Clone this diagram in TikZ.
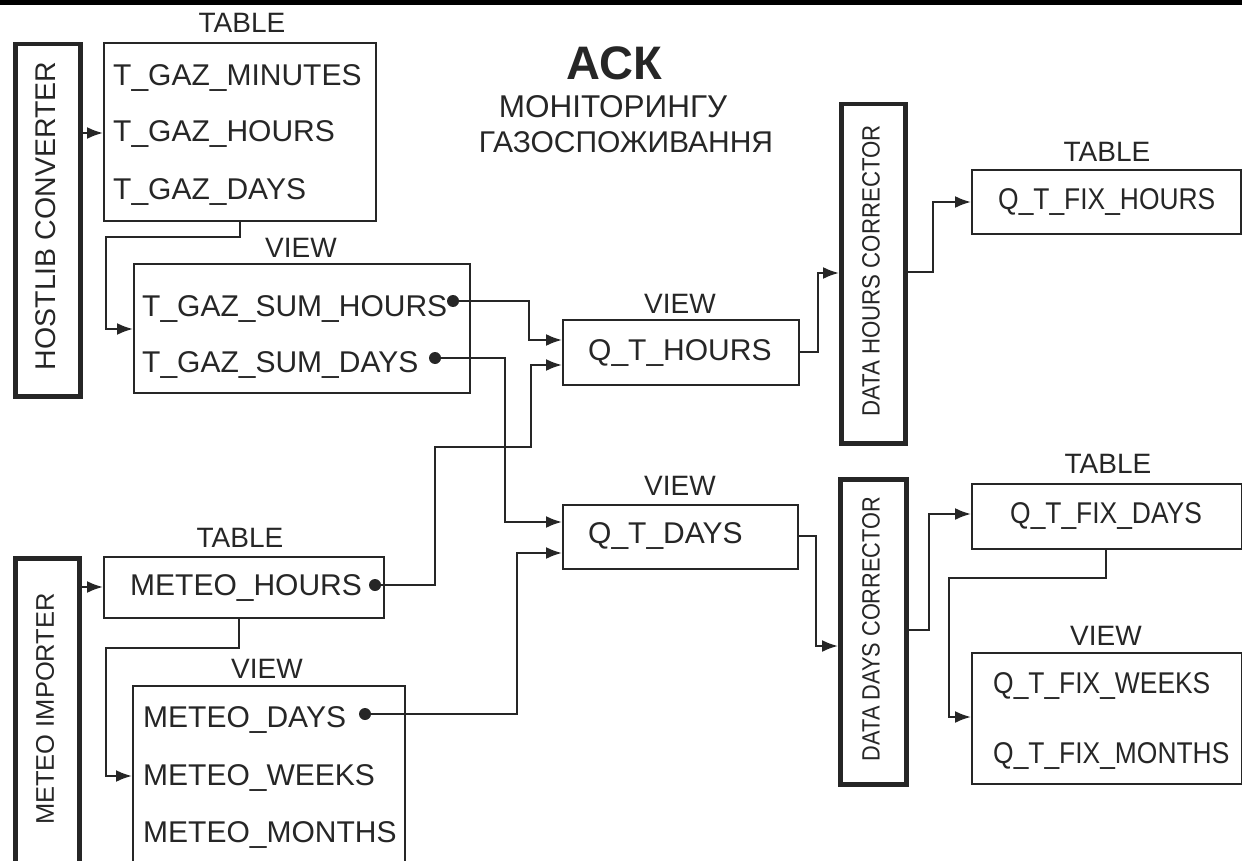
\documentclass[tikz,border=0pt]{standalone}
\usepackage{fontspec}
\setmainfont{Liberation Sans}
\usetikzlibrary{arrows.meta}
\definecolor{ink}{RGB}{38,38,38}
\newcommand{\fsz}[1]{\fontsize{#1}{#1}\selectfont}
\newcommand{\cond}[1]{\scalebox{0.88}[1]{#1}}
\begin{document}
\begin{tikzpicture}[x=1pt,y=-1pt,
  thinbox/.style={draw=ink, line width=2.2pt, inner sep=0pt, anchor=north west},
  thickbox/.style={draw=ink, line width=4.5pt, inner sep=0pt, anchor=north west},
  item/.style={anchor=base west, inner sep=0pt, font=\fsz{30}, text=ink},
  lbl/.style={anchor=base, inner sep=0pt, font=\fsz{28}, text=ink},
  vlbl/.style={rotate=90, inner sep=0pt, text=ink},
  conn/.style={draw=ink, line width=2.2pt},
  arr/.style={conn, -{Latex[length=16pt,width=12pt]}},
  dot/.style={circle, fill=ink, inner sep=0pt, minimum size=12pt},
]
\useasboundingbox (0,0) rectangle (1242,861);
\clip (0,0) rectangle (1242,861);
\fill[black] (0,0) rectangle (1242,5);

% title
\node[anchor=base, inner sep=0pt, font=\fsz{47}\bfseries, text=ink] (title1) at (614,80) {АСК};
\node[anchor=base, inner sep=0pt, font=\fsz{31.5}, text=ink] (title2) at (613,118) {МОНІТОРИНГУ};
\node[anchor=base, inner sep=0pt, font=\fsz{30}, text=ink] (title3) at (626,153) {ГАЗОСПОЖИВАННЯ};

% thick process boxes
\node[thickbox, minimum width=65pt, minimum height=352pt] (hostlib) at (13,42) {};
\node[vlbl, font=\fsz{28.5}] (hostlibt) at (45.5,216) {HOSTLIB CONVERTER};
\node[thickbox, minimum width=64pt, minimum height=340pt] (meteoimp) at (13,556) {};
\node[vlbl, font=\fsz{25.5}] (meteoimpt) at (45,709) {METEO IMPORTER};
\node[thickbox, minimum width=64pt, minimum height=339pt] (dhc) at (839,102) {};
\node[vlbl, font=\fsz{25}] (dhct) at (871,271) {\scalebox{0.89}[1]{DATA HOURS CORRECTOR}};
\node[thickbox, minimum width=66pt, minimum height=305pt] (ddc) at (838,477) {};
\node[vlbl, font=\fsz{25}] (ddct) at (871,629) {\scalebox{0.87}[1]{DATA DAYS CORRECTOR}};

% tables / views
\node[thinbox, minimum width=272pt, minimum height=178pt] (tgaz) at (103,42) {};
\node[lbl] (tgazl) at (242,33) {TABLE};
\node[item] (tgaz1) at (113,86) {T\_GAZ\_MINUTES};
\node[item] (tgaz2) at (113,142) {T\_GAZ\_HOURS};
\node[item] (tgaz3) at (113,200) {T\_GAZ\_DAYS};

\node[thinbox, minimum width=336pt, minimum height=129pt] (tgs) at (133,263) {};
\node[lbl] (tgsl) at (301,257) {VIEW};
\node[item] (tgs1) at (142,316) {T\_GAZ\_SUM\_HOURS};
\node[item] (tgs2) at (142,372) {T\_GAZ\_SUM\_DAYS};

\node[thinbox, minimum width=236pt, minimum height=65pt] (qth) at (562,319) {};
\node[lbl] (qthl) at (680,313) {VIEW};
\node[item] (qtht) at (588,360) {Q\_T\_HOURS};

\node[thinbox, minimum width=235pt, minimum height=64pt] (qtd) at (562,504) {};
\node[lbl] (qtdl) at (680,495) {VIEW};
\node[item] (qtdt) at (588,543) {Q\_T\_DAYS};

\node[thinbox, minimum width=269pt, minimum height=64pt] (qfh) at (971,169) {};
\node[lbl] (qfhl) at (1107,162) {TABLE};
\node[item] (qfht) at (998,210) {\cond{Q\_T\_FIX\_HOURS}};

\node[thinbox, minimum width=270pt, minimum height=65pt] (qfd) at (971,483) {};
\node[lbl] (qfdl) at (1108,473) {TABLE};
\node[item] (qfdt) at (1010,523) {\cond{Q\_T\_FIX\_DAYS}};

\node[thinbox, minimum width=270pt, minimum height=131pt] (qfv) at (971,652) {};
\node[lbl] (qfvl) at (1106,645) {VIEW};
\node[item] (qfv1) at (993,693) {\cond{Q\_T\_FIX\_WEEKS}};
\node[item] (qfv2) at (993,763) {\cond{Q\_T\_FIX\_MONTHS}};

\node[thinbox, minimum width=280pt, minimum height=61pt] (mh) at (103,556) {};
\node[lbl] (mhl) at (240,547) {TABLE};
\node[item] (mht) at (130,595) {METEO\_HOURS};

\node[thinbox, minimum width=272pt, minimum height=220pt] (mv) at (132,685) {};
\node[lbl] (mvl) at (267,678) {VIEW};
\node[item] (mv1) at (143,727) {METEO\_DAYS};
\node[item] (mv2) at (143,785) {METEO\_WEEKS};
\node[item] (mv3) at (143,842) {METEO\_MONTHS};

% dots
\node[dot] (dsh) at (453,301) {};
\node[dot] (dsd) at (435,358) {};
\node[dot] (dmh) at (375,585) {};
\node[dot] (dmd) at (365,714) {};

% connectors
\draw[arr] (hostlib.east |- 0,133) -- (tgaz.west |- 0,133);
\draw[arr] (tgaz.south -| 240,0) -- (240,237) -- (106,237) -- (106,329) -- (tgs.west |- 0,329);
\draw[arr] (dsh.center) -- (529,301) -- (529,340) -- (qth.west |- 0,340);
\draw[arr] (dsd.center) -- (505,358) -- (505,522) -- (qtd.west |- 0,522);
\draw[arr] (dmh.center) -- (435,585) -- (435,447) -- (531,447) -- (531,365) -- (qth.west |- 0,365);
\draw[arr] (dmd.center) -- (517,714) -- (517,553) -- (qtd.west |- 0,553);
\draw[arr] (qth.east |- 0,352) -- (818,352) -- (818,273) -- (dhc.west |- 0,273);
\draw[arr] (dhc.east |- 0,272) -- (933,272) -- (933,202) -- (qfh.west |- 0,202);
\draw[arr] (qtd.east |- 0,536) -- (816,536) -- (816,646) -- (ddc.west |- 0,646);
\draw[arr] (ddc.east |- 0,630) -- (929,630) -- (929,514) -- (qfd.west |- 0,514);
\draw[arr] (qfd.south -| 1106,0) -- (1106,578) -- (949,578) -- (949,717) -- (qfv.west |- 0,717);
\draw[arr] (meteoimp.east |- 0,587) -- (mh.west |- 0,587);
\draw[arr] (mh.south -| 239,0) -- (239,648) -- (106,648) -- (106,776) -- (mv.west |- 0,776);
\end{tikzpicture}
\end{document}
